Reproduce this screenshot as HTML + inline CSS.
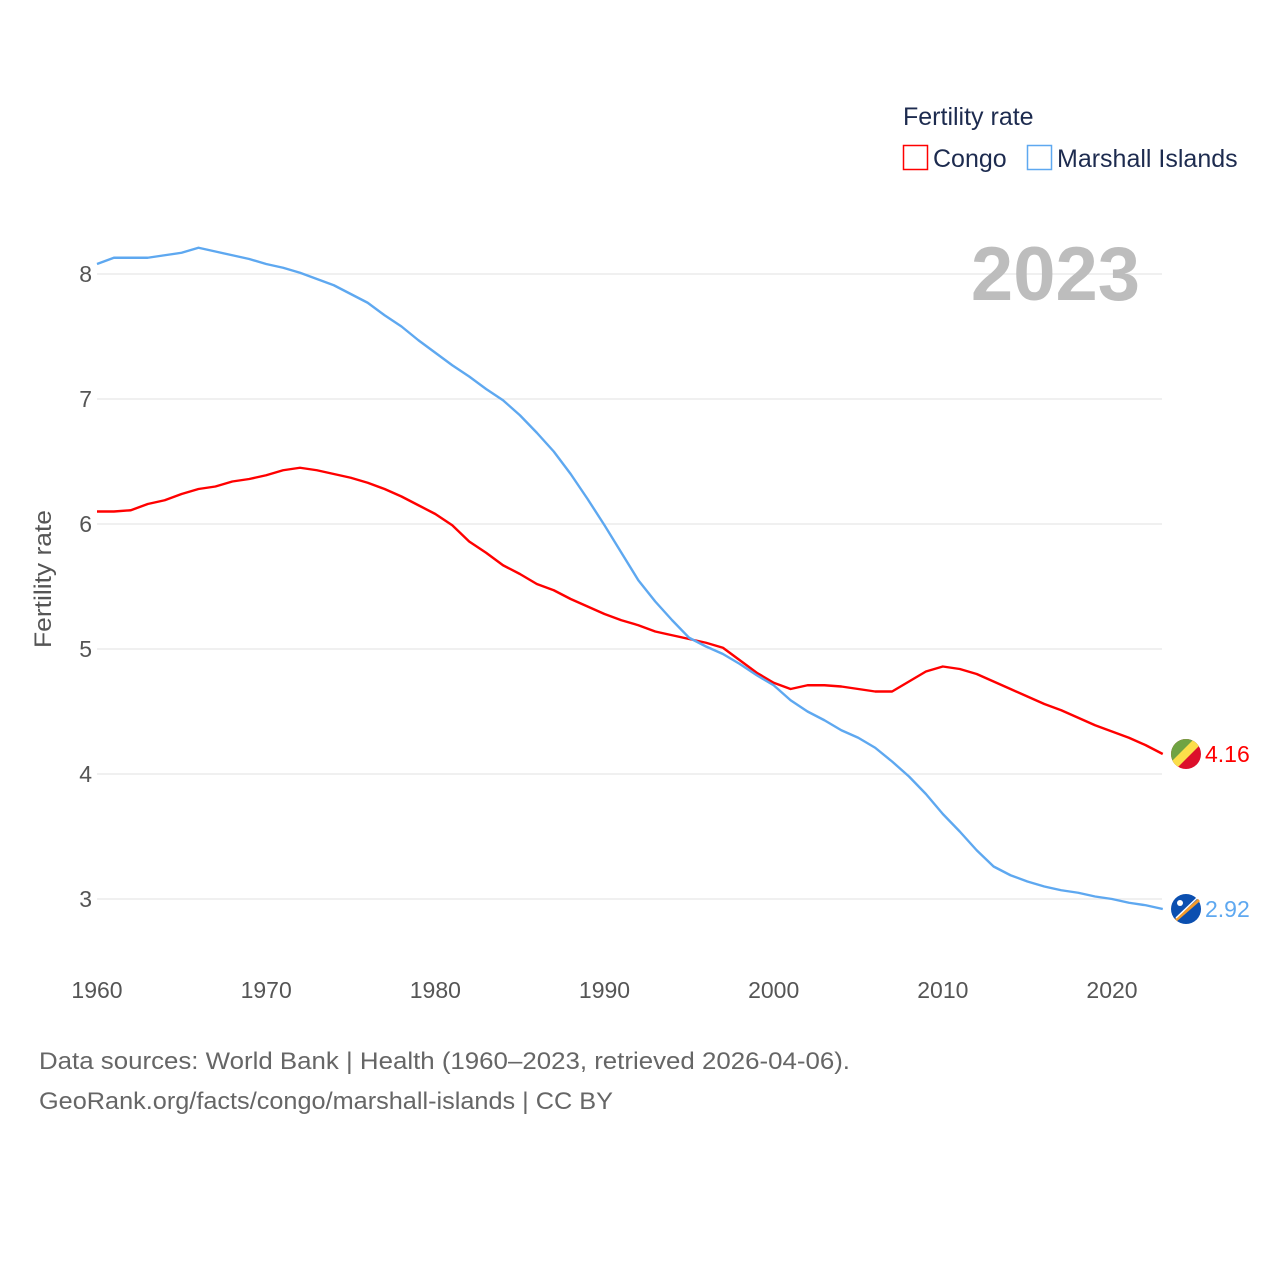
<!DOCTYPE html>
<html><head><meta charset="utf-8"><style>
body{margin:0;background:#fff;font-family:"Liberation Sans",sans-serif}
svg text{font-family:"Liberation Sans",sans-serif}
</style></head><body>
<svg width="1280" height="1280" viewBox="0 0 1280 1280">
<g id="grid"></g>
<g id="yt"></g>
<g id="xt"></g>
<text x="1140" y="300" text-anchor="end" font-size="76" font-weight="bold" fill="#bdbdbd">2023</text>
<text transform="translate(51,579) rotate(-90)" x="-69" y="0" textLength="138" lengthAdjust="spacingAndGlyphs" font-size="24" fill="#555">Fertility rate</text>
<g>
<text x="903" y="125" font-size="25" fill="#1d2b4f">Fertility rate</text>
<g><rect x="903.5" y="145.5" width="24" height="24" fill="none" stroke="#f00" stroke-width="1.5"/><text x="933" y="167" font-size="25" fill="#1d2b4f">Congo</text></g>
<g><rect x="1027.5" y="145.5" width="24" height="24" fill="none" stroke="#5ea8f0" stroke-width="1.5"/><text x="1057" y="167" font-size="25" fill="#1d2b4f">Marshall Islands</text></g>
</g>
<g id="lines"></g>
<g id="ends"></g>
<text x="39" y="1069" font-size="24.5" textLength="811" lengthAdjust="spacingAndGlyphs" fill="#666">Data sources: World Bank | Health (1960–2023, retrieved 2026-04-06).</text>
<text x="39" y="1109" font-size="24.5" textLength="574" lengthAdjust="spacingAndGlyphs" fill="#666">GeoRank.org/facts/congo/marshall-islands | CC BY</text>
</svg>
<script>
const years=[];for(let y=1960;y<=2023;y++)years.push(y);
const congo=[6.10,6.10,6.11,6.16,6.19,6.24,6.28,6.30,6.34,6.36,6.39,6.43,6.45,6.43,6.40,6.37,6.33,6.28,6.22,6.15,6.08,5.99,5.86,5.77,5.67,5.60,5.52,5.47,5.40,5.34,5.28,5.23,5.19,5.14,5.11,5.08,5.05,5.01,4.91,4.81,4.73,4.68,4.71,4.71,4.70,4.68,4.66,4.66,4.74,4.82,4.86,4.84,4.80,4.74,4.68,4.62,4.56,4.51,4.45,4.39,4.34,4.29,4.23,4.16];
const marshall=[8.08,8.13,8.13,8.13,8.15,8.17,8.21,8.18,8.15,8.12,8.08,8.05,8.01,7.96,7.91,7.84,7.77,7.67,7.58,7.47,7.37,7.27,7.18,7.08,6.99,6.87,6.73,6.58,6.40,6.20,5.99,5.77,5.55,5.38,5.23,5.09,5.02,4.96,4.88,4.79,4.71,4.59,4.50,4.43,4.35,4.29,4.21,4.10,3.98,3.84,3.68,3.54,3.39,3.26,3.19,3.14,3.10,3.07,3.05,3.02,3.00,2.97,2.95,2.92];
const yTicks=[3,4,5,6,7,8];
const xTicks=[1960,1970,1980,1990,2000,2010,2020];
const NS="http://www.w3.org/2000/svg";
const X=y=>97+(y-1960)*(1112-97)/60;
const Y=v=>899-(v-3)*125;
function mk(t,a,p){const e=document.createElementNS(NS,t);for(const k in a)e.setAttribute(k,a[k]);p.appendChild(e);return e;}
const grid=document.getElementById('grid'),yt=document.getElementById('yt'),xt=document.getElementById('xt');
yTicks.forEach(v=>{
const l=mk('line',{x1:97,x2:1162,y1:Y(v),y2:Y(v),stroke:'#e6e6e6','stroke-width':1.2},grid);


const t=mk('text',{x:92,y:Y(v)+8,'text-anchor':'end','font-size':23,fill:'#555'},yt);t.textContent=v;


});
xTicks.forEach(v=>{
const t=mk('text',{x:X(v),y:998,'text-anchor':'middle','font-size':23,fill:'#555'},xt);t.textContent=v;


});
const lines=document.getElementById('lines'),ends=document.getElementById('ends');
function series(vals,col,name){
const p=mk('polyline',{points:vals.map((v,i)=>X(years[i])+','+Y(v)).join(' '),fill:'none',stroke:col,'stroke-width':2.4,'stroke-linejoin':'round'},lines);


const last=vals[vals.length-1];
const t=mk('text',{x:1205,y:Y(last)+8,'font-size':23,fill:col},ends);t.textContent=last.toFixed(2);


return Y(last);
}
const cy=series(congo,'#ff0000','congo');
const my=series(marshall,'#5ea8f0','marshall-islands');
let g=mk('g',{},ends);


mk('clipPath',{id:'c1'},g).appendChild(document.createElementNS(NS,'circle'));
const c1=g.querySelector('circle');c1.setAttribute('cx',1186);c1.setAttribute('cy',cy);c1.setAttribute('r',15);
mk('rect',{x:1171,y:cy-15,width:30,height:30,fill:'#dc0f2b','clip-path':'url(#c1)'},g);
mk('polygon',{points:`1171,${cy+15} 1171,${cy-15} 1201,${cy-15}`,fill:'#6fa343','clip-path':'url(#c1)'},g);
mk('polygon',{points:`1171,${cy+15} 1176,${cy+15} 1201,${cy-10} 1201,${cy-15} 1194,${cy-15} 1171,${cy+8}`,fill:'#fbde4a','clip-path':'url(#c1)'},g);
g=mk('g',{},ends);


mk('circle',{cx:1186,cy:my,r:15,fill:'#0b4fb0'},g);
mk('line',{x1:1176,y1:my+11,x2:1199,y2:my-9,stroke:'#f39a2b','stroke-width':3},g);
mk('line',{x1:1176,y1:my+9,x2:1197,y2:my-11,stroke:'#fff','stroke-width':1.5},g);
mk('circle',{cx:1180,cy:my-6,r:3,fill:'#fff'},g);
</script>
</body></html>
